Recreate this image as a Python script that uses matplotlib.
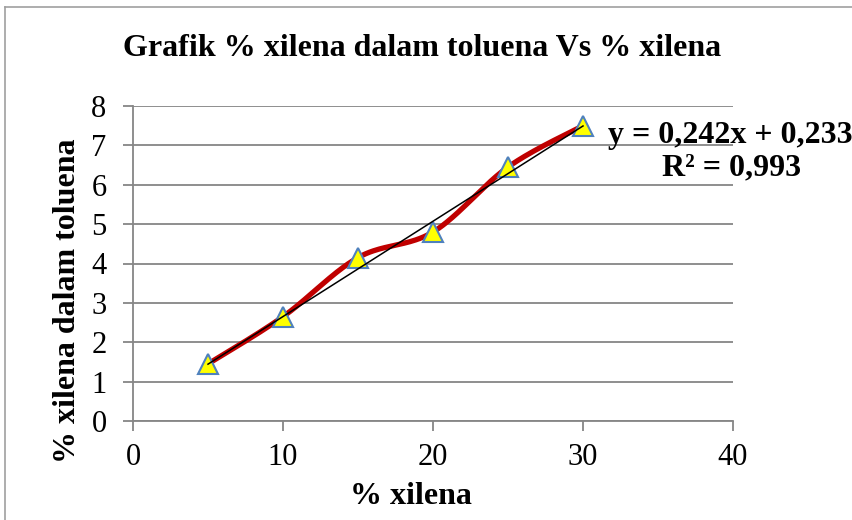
import numpy as np
import matplotlib
matplotlib.use("Agg")
import matplotlib.pyplot as plt
from matplotlib.lines import Line2D

x_vals = [5, 10, 15, 20, 25, 30]
y_vals = [1.45, 2.65, 4.15, 4.8, 6.45, 7.5]
x_ticks = [0, 10, 20, 30, 40]
y_ticks = [0, 1, 2, 3, 4, 5, 6, 7, 8]
title = "Grafik % xilena dalam toluena Vs % xilena"
x_label = "% xilena"
y_label = "% xilena dalam toluena"
eq_line = "y = 0,242x + 0,233"
r2_line = "R² = 0,993"
slope, intercept = 0.242, 0.233

plt.rcParams['font.family'] = ['Liberation Serif', 'DejaVu Serif']

fig = plt.figure(figsize=(8.53, 5.2), dpi=100)
ax = fig.add_axes([133/853, 1-421/520, 600/853, 315/520])

# Excel-like smoothed line (Catmull-Rom Bezier)
xs = np.array(x_vals, float); ys = np.array(y_vals, float)
P = np.column_stack([xs, ys])
curve = []
n = len(P)
for i in range(n-1):
    p0 = P[max(i-1, 0)]; p1 = P[i]; p2 = P[i+1]; p3 = P[min(i+2, n-1)]
    c1 = p1 + (p2 - p0)/6.0
    c2 = p2 - (p3 - p1)/6.0
    t = np.linspace(0, 1, 40)[:, None]
    seg = (1-t)**3*p1 + 3*(1-t)**2*t*c1 + 3*(1-t)*t**2*c2 + t**3*p2
    curve.append(seg)
curve = np.vstack(curve)
ax.plot(curve[:, 0], curve[:, 1], color='#C00000', lw=3.8, zorder=3, solid_capstyle='butt')
ax.plot(xs, ys, linestyle='none', marker='^', markersize=14, markerfacecolor='#FFFF00',
        markeredgecolor='#4F81BD', markeredgewidth=1.5, zorder=4)
tx = np.array([x_vals[0], x_vals[-1]], float)
ax.plot(tx, slope*tx + intercept, color='black', lw=1.1, zorder=5)

ax.set_xlim(0, 40)
ax.set_ylim(0, 8)
ax.set_xticks(x_ticks)
ax.set_yticks(y_ticks)
ax.grid(axis='y', color='#868686', lw=1.3)
ax.set_axisbelow(True)
for s in ['top', 'right']:
    ax.spines[s].set_visible(False)
for s in ['left', 'bottom']:
    ax.spines[s].set_color('#868686')
    ax.spines[s].set_linewidth(1.3)
ax.tick_params(axis='both', colors='#868686', length=7, width=1.3, labelsize=22, labelcolor='black')
ax.tick_params(axis='x', pad=9)
ax.tick_params(axis='y', pad=12)

ax.set_xlabel(x_label, fontsize=23, fontweight='bold')
ax.xaxis.set_label_coords((411-133)/600, -(497-421)/315)
ax.xaxis.label.set_va('center')
ax.set_ylabel(y_label, fontsize=23, fontweight='bold')
ax.yaxis.set_label_coords((68-133)/600, (421-301)/315)
ax.yaxis.label.set_va('center')
fig.text(422/853, 1-49/520, title, fontsize=23, fontweight='bold', ha='center', va='center')
fig.text(730/853, 1-143/520, eq_line, fontsize=23, fontweight='bold', ha='center', va='baseline')
fig.text(732/853, 1-175/520, r2_line, fontsize=23, fontweight='bold', ha='center', va='baseline')

fig.add_artist(Line2D([5/853, 5/853], [0, 1-7/520], transform=fig.transFigure, color='#A0A0A0', lw=1.2))
fig.add_artist(Line2D([5/853, 1], [1-7/520, 1-7/520], transform=fig.transFigure, color='#A0A0A0', lw=1.2))

fig.savefig("out.png", dpi=100)
